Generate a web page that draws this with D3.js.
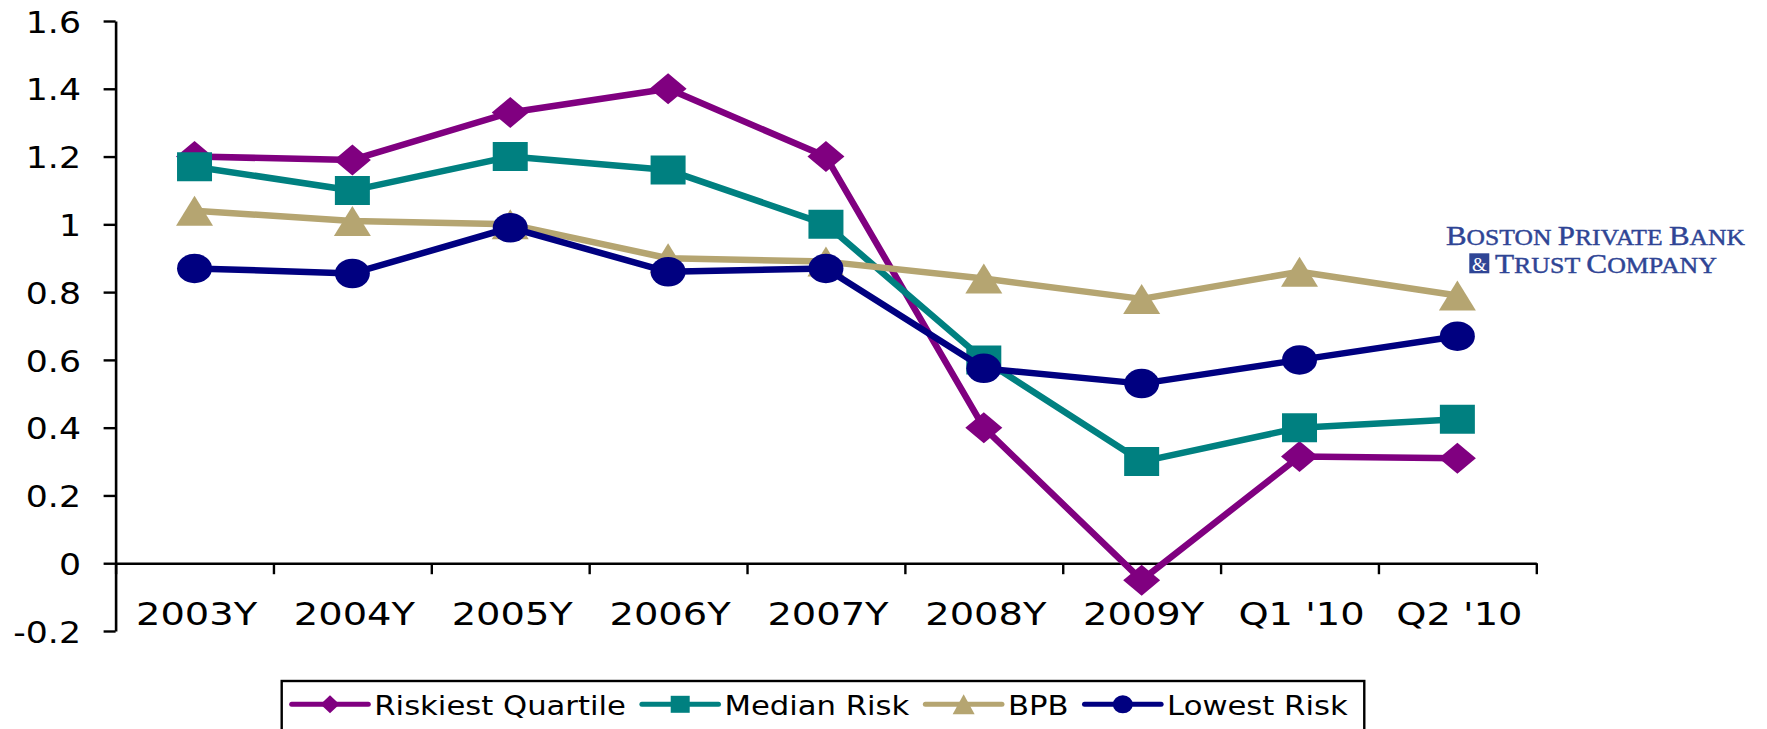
<!DOCTYPE html>
<html>
<head>
<meta charset="utf-8">
<script src="https://cdn.jsdelivr.net/npm/d3@7"></script>
<style>
  html, body { margin: 0; padding: 0; background: #ffffff; }
  svg { display: block; }
  .axis text { font-family: "DejaVu Sans", Verdana, sans-serif; fill: #000; }
</style>
</head>
<body>
<svg id="chart" width="1767" height="729"></svg>
<script>
// Period labels along the bottom axis
const categories = ["2003Y", "2004Y", "2005Y", "2006Y", "2007Y", "2008Y", "2009Y", "Q1 '10", "Q2 '10"];

// One value per period for each risk group
const riskiestQuartile = [1.20, 1.19, 1.33, 1.40, 1.20, 0.40, -0.05, 0.315, 0.31];
const medianRisk       = [1.17, 1.10, 1.20, 1.16, 1.00, 0.60, 0.30, 0.40, 0.425];
const bpb              = [1.04, 1.01, 1.00, 0.90, 0.89, 0.84, 0.78, 0.86, 0.79];
const lowestRisk       = [0.87, 0.855, 0.99, 0.86, 0.87, 0.575, 0.53, 0.60, 0.67];

// Value axis ticks
const yTicks = [-0.2, 0, 0.2, 0.4, 0.6, 0.8, 1.0, 1.2, 1.4, 1.6];

const seriesNames = ["Riskiest Quartile", "Median Risk", "BPB", "Lowest Risk"];
const seriesValues = [riskiestQuartile, medianRisk, bpb, lowestRisk];
const seriesColors = ["#800080", "#008080", "#b5a571", "#000080"];
const seriesShapes = ["diamond", "square", "triangle", "circle"];

const svg = d3.select("#chart");

const plot = { left: 115.6, right: 1536.3, top: 21, bottom: 631 };

const x = d3.scaleBand().domain(categories).range([plot.left, plot.right]).padding(0);
const xEdges = d3.scaleLinear().domain([0, categories.length]).range([plot.left, plot.right]);
const y = d3.scaleLinear().domain([-0.2, 1.6]).range([plot.bottom, plot.top]);

// Marker outlines, slightly wider than tall
function markerPath(shape, w, h) {
  const a = w / 2, b = h / 2;
  switch (shape) {
    case "diamond":  return `M0,${-b}L${a},0L0,${b}L${-a},0Z`;
    case "square":   return `M${-a},${-b}H${a}V${b}H${-a}Z`;
    case "triangle": return `M0,${-b}L${a},${b}L${-a},${b}Z`;
    default:         return `M${-a},0A${a},${b} 0 1,0 ${a},0A${a},${b} 0 1,0 ${-a},0Z`;
  }
}
const bigSize = { diamond: [37, 31], square: [35, 29], triangle: [37, 30], circle: [35, 29.5] };
const smallSize = { diamond: [19, 18], square: [19, 17], triangle: [22, 20], circle: [20, 18] };

// ---- Value axis ----
const yAxis = d3.axisLeft(y)
  .tickValues(yTicks)
  .tickSize(12)
  .tickSizeOuter(0)
  .tickFormat(d => String(+d.toFixed(1)));

const gy = svg.append("g")
  .attr("class", "axis")
  .attr("transform", `translate(${plot.left},0)`)
  .call(yAxis);
gy.select(".domain").attr("stroke", "#000").attr("stroke-width", 2.6);
gy.selectAll(".tick line").attr("stroke", "#000").attr("stroke-width", 2.4);
gy.selectAll(".tick text")
  .attr("x", 0)
  .attr("dy", "0.36em")
  .attr("text-anchor", "end")
  .attr("font-size", 31)
  .attr("transform", "translate(-34.6,0) scale(1.12,1)");

// ---- Category axis (at zero) ----
const gx = svg.append("g")
  .attr("class", "axis")
  .attr("transform", `translate(0,${y(0)})`);

gx.append("g")
  .call(d3.axisBottom(xEdges)
    .tickValues(d3.range(0, categories.length + 1))
    .tickSize(11)
    .tickSizeOuter(0)
    .tickFormat(""))
  .call(g => {
    g.select(".domain").attr("stroke", "#000").attr("stroke-width", 2.6);
    g.selectAll(".tick line").attr("stroke", "#000").attr("stroke-width", 2.4);
  });

gx.append("g")
  .call(d3.axisBottom(x).tickSize(0).tickSizeOuter(0))
  .call(g => {
    g.select(".domain").remove();
    g.selectAll(".tick text")
      .attr("x", 0)
      .attr("y", 0)
      .attr("dy", 0)
      .attr("font-size", 32)
      .attr("text-anchor", "middle")
      .attr("transform", `translate(2,${625 - y(0)}) scale(1.2,1)`);
  });

// ---- Series lines and markers ----
const line = d3.line()
  .x((d, i) => x(categories[i]) + x.bandwidth() / 2)
  .y(d => y(d));

seriesValues.forEach((vals, si) => {
  const g = svg.append("g").attr("class", "series");
  g.append("path")
    .datum(vals)
    .attr("d", line)
    .attr("fill", "none")
    .attr("stroke", seriesColors[si])
    .attr("stroke-width", 6.5)
    .attr("stroke-linejoin", "round");
  const [w, h] = bigSize[seriesShapes[si]];
  g.selectAll("path.marker")
    .data(vals)
    .join("path")
    .attr("class", "marker")
    .attr("d", markerPath(seriesShapes[si], w, h))
    .attr("transform", (d, i) => `translate(${x(categories[i]) + x.bandwidth() / 2},${y(d)})`)
    .attr("fill", seriesColors[si]);
});

// ---- Legend ----
const legend = svg.append("g").attr("class", "legend");
const legendBox = legend.append("rect")
  .attr("fill", "#fff")
  .attr("stroke", "#000")
  .attr("stroke-width", 2.4);

const legendFont = 26, legendStretch = 1.18;
const lineLen = 76.6, lineY = 704.3, textBase = 715;
let cursor = 291.7;
seriesNames.forEach((name, si) => {
  const item = legend.append("g");
  item.append("line")
    .attr("x1", cursor).attr("x2", cursor + lineLen)
    .attr("y1", lineY).attr("y2", lineY)
    .attr("stroke", seriesColors[si])
    .attr("stroke-width", 5)
    .attr("stroke-linecap", "round");
  const [w, h] = smallSize[seriesShapes[si]];
  item.append("path")
    .attr("d", markerPath(seriesShapes[si], w, h))
    .attr("transform", `translate(${cursor + lineLen / 2},${lineY})`)
    .attr("fill", seriesColors[si]);
  const tx = cursor + lineLen + 6;
  const t = item.append("text")
    .attr("x", 0).attr("y", 0)
    .attr("transform", `translate(${tx},${textBase}) scale(${legendStretch},1)`)
    .attr("font-family", "'DejaVu Sans', Verdana, sans-serif")
    .attr("font-size", legendFont)
    .attr("fill", "#000")
    .text(name);
  const tw = t.node().getComputedTextLength() * legendStretch;
  cursor = tx + tw + 16;
});
legendBox
  .attr("x", 281.7)
  .attr("y", 681)
  .attr("width", cursor - 281.7 + 0.6)
  .attr("height", 60);

// ---- Bank wordmark ----
const brandBlue = "#2f4595";
const brand = svg.append("g").attr("class", "brand")
  .attr("font-family", "'Liberation Serif', 'Times New Roman', serif")
  .attr("fill", brandBlue)
  .attr("stroke", brandBlue)
  .attr("stroke-width", 0.45);

const line1 = brand.append("text")
  .attr("x", 1446).attr("y", 245)
  .attr("textLength", 299)
  .attr("lengthAdjust", "spacingAndGlyphs");
[["B", 28], ["OSTON ", 23.2], ["P", 28], ["RIVATE ", 23.2], ["B", 28], ["ANK", 23.2]]
  .forEach(([s, fs]) => line1.append("tspan").attr("font-size", fs).text(s));

brand.append("rect")
  .attr("x", 1469.3).attr("y", 253.3)
  .attr("width", 20).attr("height", 20)
  .attr("stroke", "none");
brand.append("text")
  .attr("x", 1479.3).attr("y", 270.5)
  .attr("text-anchor", "middle")
  .attr("font-size", 19)
  .attr("fill", "#fff")
  .attr("stroke", "none")
  .text("&");

const line2 = brand.append("text")
  .attr("x", 1495).attr("y", 273.3)
  .attr("textLength", 222)
  .attr("lengthAdjust", "spacingAndGlyphs");
[["T", 28], ["RUST ", 23.2], ["C", 28], ["OMPANY", 23.2]]
  .forEach(([s, fs]) => line2.append("tspan").attr("font-size", fs).text(s));
</script>
</body>
</html>
